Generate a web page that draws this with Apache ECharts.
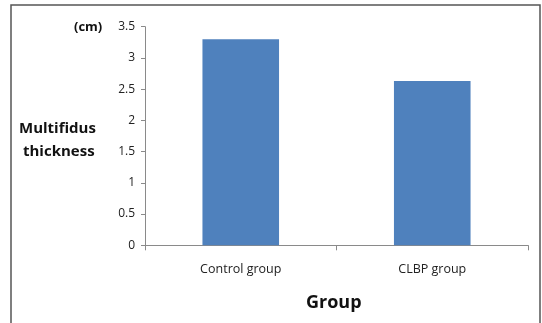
<!DOCTYPE html>
<html>
<head>
<meta charset="utf-8">
<style>
  html, body { margin: 0; padding: 0; background: #fff; }
  #chart { width: 542px; height: 323px; }
</style>
<script src="https://cdn.jsdelivr.net/npm/echarts@6/dist/echarts.min.js"></script>
</head>
<body>
<div id="chart"></div>
<script>
// Mean multifidus thickness (cm) by group
const categories = ['Control group', 'CLBP group'];
const thickness = [3.30, 2.63];
const yTicks = { min: 0, max: 3.5, interval: 0.5 };

const chart = echarts.init(document.getElementById('chart'), null, { renderer: 'canvas' });
const font = '"Open Sans", Lato, "DejaVu Sans", sans-serif';
const axisColor = '#8a8a8a';

chart.setOption({
  animation: false,
  backgroundColor: '#ffffff',
  grid: { left: 145, right: 14, top: 26.7, bottom: 77.7 },
  xAxis: {
    type: 'category',
    data: categories,
    axisLine: { lineStyle: { color: axisColor, width: 1 } },
    axisTick: { show: true, length: 5, lineStyle: { color: axisColor } },
    axisLabel: { color: '#222', fontSize: 12.5, fontFamily: font, margin: 18 },
    splitLine: { show: false }
  },
  yAxis: {
    type: 'value',
    min: yTicks.min,
    max: yTicks.max,
    interval: yTicks.interval,
    axisLine: { show: true, lineStyle: { color: axisColor, width: 1 } },
    axisTick: { show: true, length: 4, lineStyle: { color: axisColor } },
    axisLabel: { color: '#222', fontSize: 12, fontFamily: font, margin: 10, padding: [4, 0, 0, 0] },
    splitLine: { show: false }
  },
  series: [{
    type: 'bar',
    data: thickness,
    barWidth: '40%',
    itemStyle: { color: '#4f81bd' }
  }],
  graphic: [
    {
      type: 'rect',
      shape: { x: 11, y: 5, width: 529, height: 330 },
      style: { fill: 'none', stroke: '#555', lineWidth: 1.5 },
      silent: true
    },
    {
      type: 'text', left: 74, top: 21,
      style: { text: '(cm)', font: 'bold 13px ' + font, fill: '#111' }
    },
    {
      type: 'text', left: 19, top: 121,
      style: { text: 'Multifidus', font: 'bold 15px ' + font, fill: '#111' }
    },
    {
      type: 'text', left: 23, top: 144,
      style: { text: 'thickness', font: 'bold 15px ' + font, fill: '#111' }
    },
    {
      type: 'text', left: 306, top: 294,
      style: { text: 'Group', font: 'bold 18px ' + font, fill: '#111' }
    }
  ]
});
</script>
</body>
</html>
